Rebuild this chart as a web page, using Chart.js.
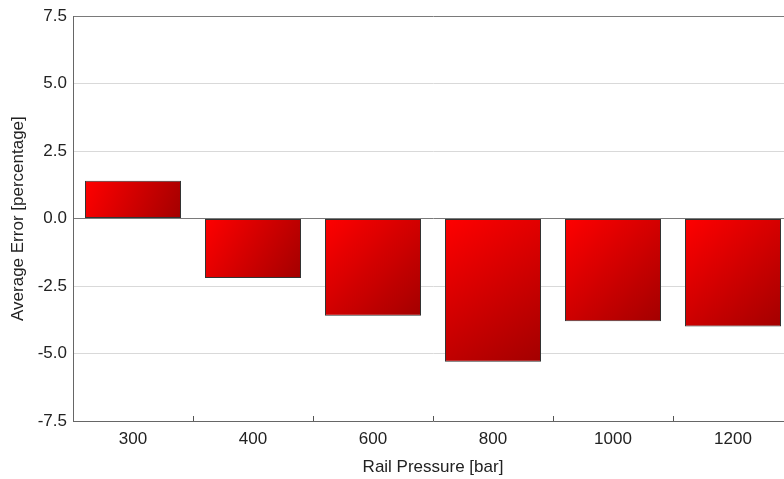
<!DOCTYPE html>
<html>
<head>
<meta charset="utf-8">
<script src="https://cdn.jsdelivr.net/npm/chart.js@4/dist/chart.umd.min.js"></script>
<style>
  html, body { margin: 0; padding: 0; background: #fff; overflow: hidden; }
  #wrap { width: 784px; height: 479px; overflow: hidden; }
  canvas { display: block; }
</style>
</head>
<body>
<div id="wrap"><canvas id="c" width="800" height="479"></canvas></div>
<script>
const categories = ['300', '400', '600', '800', '1000', '1200'];
const averageError = [1.4, -2.2, -3.6, -5.3, -3.8, -4.0];
const yTicks = [-7.5, -5.0, -2.5, 0.0, 2.5, 5.0, 7.5];

const FONT = "'Liberation Sans', Arial, sans-serif";

function barGradient(ctx) {
  const chart = ctx.chart;
  if (!chart.chartArea || ctx.dataIndex === undefined) return '#e00000';
  const xs = chart.scales.x, ys = chart.scales.y;
  const cx = xs.getPixelForValue(ctx.dataIndex);
  const w = (xs.getPixelForValue(1) - xs.getPixelForValue(0)) * 0.8;
  const y0 = ys.getPixelForValue(0), y1 = ys.getPixelForValue(ctx.raw);
  const top = Math.min(y0, y1), bot = Math.max(y0, y1);
  const g = chart.ctx.createLinearGradient(cx - w / 2, top, cx + w / 2, bot);
  g.addColorStop(0, '#ff0000');
  g.addColorStop(1, '#a30000');
  return g;
}

const innerTicks = {
  id: 'innerTicks',
  afterDatasetsDraw(chart) {
    const xs = chart.scales.x;
    const { ctx, chartArea } = chart;
    const step = xs.getPixelForValue(1) - xs.getPixelForValue(0);
    ctx.save();
    ctx.strokeStyle = '#555';
    ctx.lineWidth = 1;
    ctx.beginPath();
    for (let i = 1; i < categories.length; i++) {
      const px = Math.round(xs.getPixelForValue(i) - step / 2) + 0.5;
      ctx.moveTo(px, chartArea.bottom);
      ctx.lineTo(px, chartArea.bottom - 5);
    }
    ctx.stroke();
    ctx.restore();
  }
};

new Chart(document.getElementById('c'), {
  type: 'bar',
  data: {
    labels: categories,
    datasets: [{
      data: averageError,
      backgroundColor: barGradient,
      borderColor: '#333',
      borderWidth: 1,
      borderSkipped: false,
      categoryPercentage: 0.8,
      barPercentage: 1.0
    }]
  },
  options: {
    responsive: false,
    animation: false,
    devicePixelRatio: 1,
    layout: { padding: { top: 15, right: 7, left: 0, bottom: 0 } },
    plugins: { legend: { display: false }, tooltip: { enabled: false } },
    scales: {
      x: {
        afterFit: (s) => { s.height = 58; },
        grid: { display: false, drawTicks: false },
        border: { display: true, color: '#666', width: 1 },
        ticks: { color: '#222', font: { family: FONT, size: 17 }, padding: 8 },
        title: {
          display: true, text: 'Rail Pressure [bar]', color: '#222',
          font: { family: FONT, size: 17 }, padding: { top: 4, bottom: 1 }
        }
      },
      y: {
        min: -7.5, max: 7.5,
        afterBuildTicks: (s) => { s.ticks = yTicks.map(v => ({ value: v })); },
        afterFit: (s) => { s.width = 73; },
        grid: {
          drawTicks: false,
          color: (c) => (c.tick && (c.tick.value === 0 || c.tick.value === 7.5)) ? '#7a7a7a' : '#d9d9d9',
          lineWidth: 1
        },
        border: { display: true, color: '#666', width: 1 },
        ticks: {
          color: '#222', font: { family: FONT, size: 17 }, padding: 6,
          callback: (v) => Number(v).toFixed(1)
        },
        title: {
          display: true, text: 'Average Error [percentage]', color: '#222',
          font: { family: FONT, size: 17 }, padding: { top: 8, bottom: 0 }
        }
      }
    }
  },
  plugins: [innerTicks]
});
</script>
</body>
</html>
